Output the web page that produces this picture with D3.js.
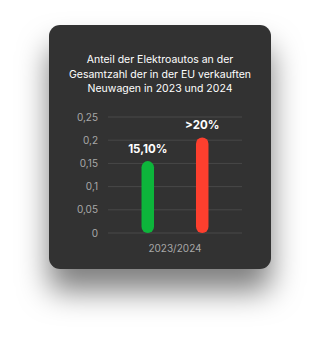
<!DOCTYPE html>
<html>
<head>
<meta charset="utf-8">
<script src="https://cdn.jsdelivr.net/npm/d3@7"></script>
<style>
  html, body { margin: 0; padding: 0; background: #fff; }
  svg { display: block; }
</style>
</head>
<body>
<div id="chart"></div>
<script>
var titleLines = ["Anteil der Elektroautos an der", "Gesamtzahl der in der EU verkauften", "Neuwagen in 2023 und 2024"];
var groupLabel = "2023/2024";
var seriesKeys = ["2023", "2024"];
var seriesValues = [0.155, 0.206];
var valueLabels = ["15,10%", ">20%"];
var barColors = ["#0db53b", "#fd3f2e"];
var yTicks = [0, 0.05, 0.1, 0.15, 0.2, 0.25];

function drawChart() {
  var W = 320, H = 343;
  var svg = d3.select("#chart").append("svg").attr("width", W).attr("height", H);
  var font = "Inter, sans-serif";

  var defs = svg.append("defs");
  var f = defs.append("filter").attr("id", "shadow")
    .attr("x", "-40%").attr("y", "-30%").attr("width", "180%").attr("height", "180%");
  f.append("feDropShadow").attr("dx", 0).attr("dy", 22).attr("stdDeviation", 15)
    .attr("flood-color", "#000").attr("flood-opacity", 0.5);

  // card
  var card = { x: 49, y: 25, w: 222, h: 244 };
  svg.append("rect")
    .attr("x", card.x).attr("y", card.y)
    .attr("width", card.w).attr("height", card.h)
    .attr("rx", 11).attr("ry", 11)
    .attr("fill", "#333333")
    .attr("filter", "url(#shadow)");

  // title
  svg.append("g").selectAll("text")
    .data(titleLines)
    .enter().append("text")
    .attr("x", 160)
    .attr("y", function (d, i) { return 63 + i * 14.5; })
    .attr("text-anchor", "middle")
    .attr("fill", "#ffffff")
    .style("font-family", font)
    .style("font-size", "10.5px")
    .text(function (d) { return d; });

  var margin = { left: 108, top: 117 };
  var width = 134, height = 116;
  var g = svg.append("g").attr("transform", "translate(" + margin.left + "," + margin.top + ")");

  var y = d3.scaleLinear().domain([0, 0.25]).range([height, 0]);
  var x0 = d3.scaleBand().domain([groupLabel]).range([0, width]);
  var x1 = d3.scalePoint().domain(seriesKeys).range([0, width]).padding(0.73);
  var barW = 12.5;

  // grid
  g.append("g").selectAll("line")
    .data(yTicks)
    .enter().append("line")
    .attr("x1", 0).attr("x2", width)
    .attr("y1", function (d) { return y(d); })
    .attr("y2", function (d) { return y(d); })
    .attr("stroke", "#484848").attr("stroke-width", 1);

  var fmt = function (d) { return String(d).replace(".", ","); };
  g.append("g").selectAll("text")
    .data(yTicks)
    .enter().append("text")
    .attr("x", -10)
    .attr("y", function (d) { return y(d); })
    .attr("dy", "0.35em")
    .attr("text-anchor", "end")
    .attr("fill", "#a8a8a8")
    .style("font-family", font)
    .style("font-size", "10px")
    .text(fmt);

  // bars
  var bars = seriesKeys.map(function (k, i) {
    return { key: k, value: seriesValues[i], label: valueLabels[i], color: barColors[i] };
  });
  g.append("g").selectAll("rect")
    .data(bars)
    .enter().append("rect")
    .attr("x", function (d) { return x1(d.key) - barW / 2; })
    .attr("y", function (d) { return y(d.value); })
    .attr("width", barW)
    .attr("height", function (d) { return height - y(d.value); })
    .attr("rx", barW / 2).attr("ry", barW / 2)
    .attr("fill", function (d) { return d.color; });

  g.append("g").selectAll("text")
    .data(bars)
    .enter().append("text")
    .attr("x", function (d) { return x1(d.key); })
    .attr("y", function (d) { return y(d.value) - 8; })
    .attr("text-anchor", "middle")
    .attr("fill", "#ffffff")
    .style("font-family", font)
    .style("font-size", "11.5px")
    .style("font-weight", "bold")
    .text(function (d) { return d.label; });

  // x label
  g.append("text")
    .attr("x", x0(groupLabel) + x0.bandwidth() / 2)
    .attr("y", height + 18.5)
    .attr("text-anchor", "middle")
    .attr("fill", "#a8a8a8")
    .style("font-family", font)
    .style("font-size", "10px")
    .text(groupLabel);
}

drawChart();
</script>
</body>
</html>
